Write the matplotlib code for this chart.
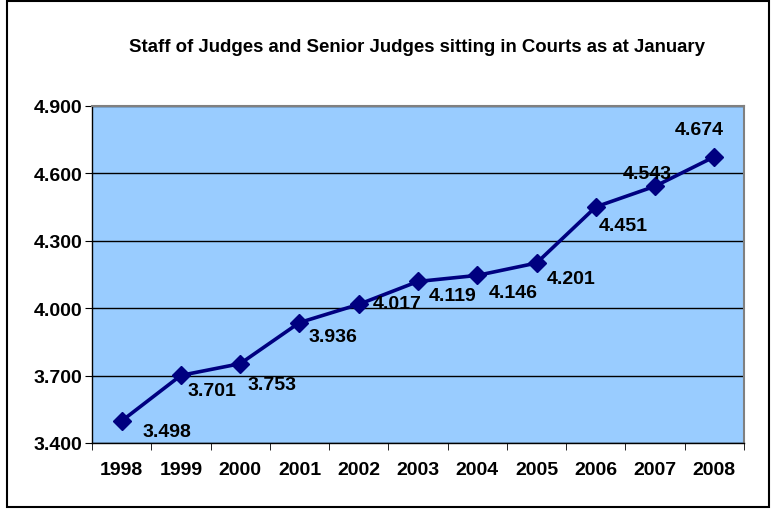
import matplotlib
matplotlib.use("Agg")
import matplotlib.pyplot as plt
from matplotlib.patches import Rectangle
from matplotlib.ticker import FixedLocator

plt.rcParams['font.family'] = ['Liberation Sans', 'DejaVu Sans']

# ---------------------------------------------------------------------------
# Datos
# ---------------------------------------------------------------------------
years = ['1998', '1999', '2000', '2001', '2002', '2003',
         '2004', '2005', '2006', '2007', '2008']
judges = [3.498, 3.701, 3.753, 3.936, 4.017, 4.119,
          4.146, 4.201, 4.451, 4.543, 4.674]
y_ticks = [3.4, 3.7, 4.0, 4.3, 4.6, 4.9]
title = 'Staff of Judges and Senior Judges sitting in Courts as at January'

# desplazamiento de cada etiqueta respecto al punto (pixeles)
label_dx = [45, 31, 32, 33, 38, 35, 36, 35, 27, -8, -15]
label_dy = [-11, -15, -21, -14, 1, -14, -17, -15, -19, 13, 27]

navy = '#000080'

fig = plt.figure(figsize=(7.71, 5.10), dpi=100)
ax = fig.add_axes([92 / 771, 1 - 444 / 510, 652 / 771, 337 / 510])
ax.set_facecolor('#99CCFF')

x = list(range(len(years)))
ax.plot(x, judges, color=navy, linewidth=2.6, marker='D', markersize=9,
        markerfacecolor=navy, markeredgecolor=navy, zorder=3)

for i, v in enumerate(judges):
    ax.annotate(f'{v:.3f}', (x[i], v), xytext=(label_dx[i], label_dy[i]),
                textcoords='offset pixels', ha='center', va='center',
                fontsize=14, fontweight='bold', color='black', zorder=4)

ax.set_xlim(-0.5, len(years) - 0.5)
ax.set_ylim(3.4, 4.9)
ax.set_yticks(y_ticks)
ax.set_yticklabels([f'{t:.3f}' for t in y_ticks], fontsize=14, fontweight='bold')
ax.set_xticks(x)
ax.set_xticklabels(years, fontsize=14, fontweight='bold')
ax.xaxis.set_minor_locator(FixedLocator([i - 0.5 for i in range(len(years) + 1)]))
ax.tick_params(axis='x', which='major', length=0, pad=13)
ax.tick_params(axis='x', which='minor', length=5, direction='out', color='black')
ax.tick_params(axis='y', length=5, direction='out', color='black', pad=2)

ax.grid(True, axis='y', color='black', linewidth=1.0)
ax.set_axisbelow(True)

for side in ['top', 'right']:
    ax.spines[side].set_color('#808080')
    ax.spines[side].set_linewidth(1.5)
for side in ['left', 'bottom']:
    ax.spines[side].set_color('black')
    ax.spines[side].set_linewidth(1.0)

fig.text(417 / 771, 1 - 47 / 510, title, ha='center', va='center',
         fontsize=13.4, fontweight='bold')

fig.patches.append(Rectangle((7 / 771, 2 / 510), 762 / 771, 506 / 510,
                             transform=fig.transFigure, fill=False,
                             edgecolor='black', linewidth=1.5))

fig.savefig('out.png', dpi=100)
